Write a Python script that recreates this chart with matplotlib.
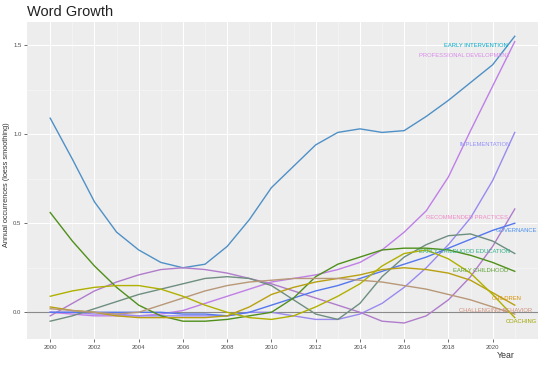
import matplotlib
matplotlib.use("Agg")
import matplotlib.pyplot as plt
import numpy as np

plt.rcParams['font.family'] = ['Liberation Sans', 'DejaVu Sans']

years = list(range(2000, 2022))

early_intervention = [1.09, 0.86, 0.62, 0.45, 0.35, 0.28, 0.25, 0.27, 0.37, 0.52, 0.70, 0.82,
                      0.94, 1.01, 1.03, 1.01, 1.02, 1.10, 1.19, 1.29, 1.39, 1.55]
professional_development = [0.00, -0.01, -0.02, -0.02, -0.02, -0.01, 0.01, 0.05, 0.09, 0.13, 0.17, 0.19,
                             0.21, 0.24, 0.28, 0.35, 0.45, 0.57, 0.76, 1.02, 1.27, 1.52]
implementation = [0.00, 0.00, -0.01, -0.01, -0.02, -0.02, -0.02, -0.02, -0.02, 0.00, 0.00, -0.02,
                  -0.04, -0.04, -0.01, 0.05, 0.14, 0.25, 0.38, 0.53, 0.74, 1.01]
recommended_practices = [-0.02, 0.05, 0.12, 0.17, 0.21, 0.24, 0.25, 0.24, 0.22, 0.19, 0.16, 0.12,
                         0.08, 0.04, 0.00, -0.05, -0.06, -0.02, 0.07, 0.20, 0.37, 0.58]
governance = [0.00, 0.00, 0.00, 0.00, 0.00, 0.00, -0.01, -0.01, -0.02, 0.00, 0.04, 0.08,
              0.12, 0.15, 0.19, 0.23, 0.27, 0.31, 0.36, 0.41, 0.46, 0.50]
early_childhood_education = [-0.05, -0.02, 0.02, 0.06, 0.10, 0.13, 0.16, 0.19, 0.20, 0.19, 0.15, 0.07,
                             -0.01, -0.04, 0.05, 0.20, 0.31, 0.38, 0.43, 0.44, 0.40, 0.33]
early_childhood = [0.56, 0.40, 0.26, 0.14, 0.04, -0.02, -0.05, -0.05, -0.04, -0.02, 0.00, 0.08,
                   0.20, 0.27, 0.31, 0.35, 0.36, 0.36, 0.35, 0.32, 0.28, 0.23]
children = [0.03, 0.01, 0.00, -0.02, -0.03, -0.03, -0.03, -0.03, -0.02, 0.03, 0.10, 0.14,
            0.17, 0.19, 0.21, 0.24, 0.25, 0.24, 0.22, 0.18, 0.11, 0.04]
challenging_behavior = [0.02, 0.01, 0.00, -0.01, 0.00, 0.04, 0.08, 0.12, 0.15, 0.17, 0.18, 0.19,
                        0.19, 0.19, 0.18, 0.17, 0.15, 0.13, 0.10, 0.07, 0.03, -0.01]
coaching = [0.09, 0.12, 0.14, 0.15, 0.15, 0.13, 0.09, 0.04, 0.00, -0.03, -0.04, -0.02,
            0.03, 0.09, 0.16, 0.26, 0.33, 0.35, 0.30, 0.22, 0.10, -0.03]

labels = ["EARLY INTERVENTION", "PROFESSIONAL DEVELOPMENT", "IMPLEMENTATION",
          "RECOMMENDED PRACTICES", "GOVERNANCE", "EARLY CHILDHOOD EDUCATION",
          "EARLY CHILDHOOD", "CHILDREN", "CHALLENGING BEHAVIOR", "COACHING"]
series = [early_intervention, professional_development, implementation,
          recommended_practices, governance, early_childhood_education,
          early_childhood, children, challenging_behavior, coaching]

# styles
line_colors = ['#4F90C6', '#C07FE6', '#9A8AF0', '#B07CCB', '#5577EE',
               '#6E8E80', '#4F8F1A', '#B8A010', '#B89878', '#B0B000']
label_colors = ['#00A9C8', '#D98BEA', '#9590FF', '#F08AC8', '#4A90F0',
                '#2FB08A', '#5AA030', '#D89000', '#D0907A', '#A3A500']
# label anchor (right edge x in data units, y in data units)
label_pos = [(2020.7, 1.50), (2020.8, 1.44), (2020.8, 0.94), (2020.7, 0.53), (2022.0, 0.46),
             (2020.8, 0.34), (2020.7, 0.235), (2021.3, 0.08), (2021.8, 0.01), (2022.0, -0.05)]

fig = plt.figure(figsize=(5.5, 3.69), dpi=100)
ax = fig.add_axes([27/550, 1-339/369, (538-27)/550, (339-22)/369])
ax.set_facecolor('#EDEDED')
for s in ax.spines.values():
    s.set_visible(False)

ax.set_xlim(1998.95, 2022.05)
ax.set_ylim(-0.15, 1.63)
ax.set_xticks(range(2000, 2021, 2))
ax.set_xticks(range(2001, 2022, 2), minor=True)
ax.set_yticks([0.0, 0.5, 1.0, 1.5])
ax.set_yticks([0.25, 0.75, 1.25], minor=True)
ax.grid(which='major', color='white', lw=0.8)
ax.grid(which='minor', color='#F7F7F7', lw=0.5)
ax.set_axisbelow(True)
ax.tick_params(which='major', length=2, width=0.5, color='#333333', labelsize=4.3,
               labelcolor='#4D4D4D', pad=2)
ax.tick_params(which='minor', length=0)
ax.set_yticklabels(['0.0', '0.5', '1.0', '1.5'])

ax.axhline(0, color='#8A8A8A', lw=0.8, zorder=1)

for vals, c in zip(series, line_colors):
    ax.plot(years, vals, color=c, lw=1.0, zorder=2, solid_joinstyle='round')

for lab, (lx, ly), c in zip(labels, label_pos, label_colors):
    ax.text(lx, ly, lab, color=c, fontsize=4.2, ha='right', va='center', zorder=3)

fig.text(27/550, 1-12/369, "Word Growth", fontsize=10.5, color='#222222', ha='left', va='center')
fig.text(7/550, 1-185/369, "Annual occurrences (loess smoothing)", fontsize=5.3,
         color='#333333', rotation=90, ha='center', va='center')
fig.text(506/550, 1-356/369, "Year", fontsize=6.3, color='#333333', ha='center', va='center')

fig.savefig("out.png", dpi=100)
